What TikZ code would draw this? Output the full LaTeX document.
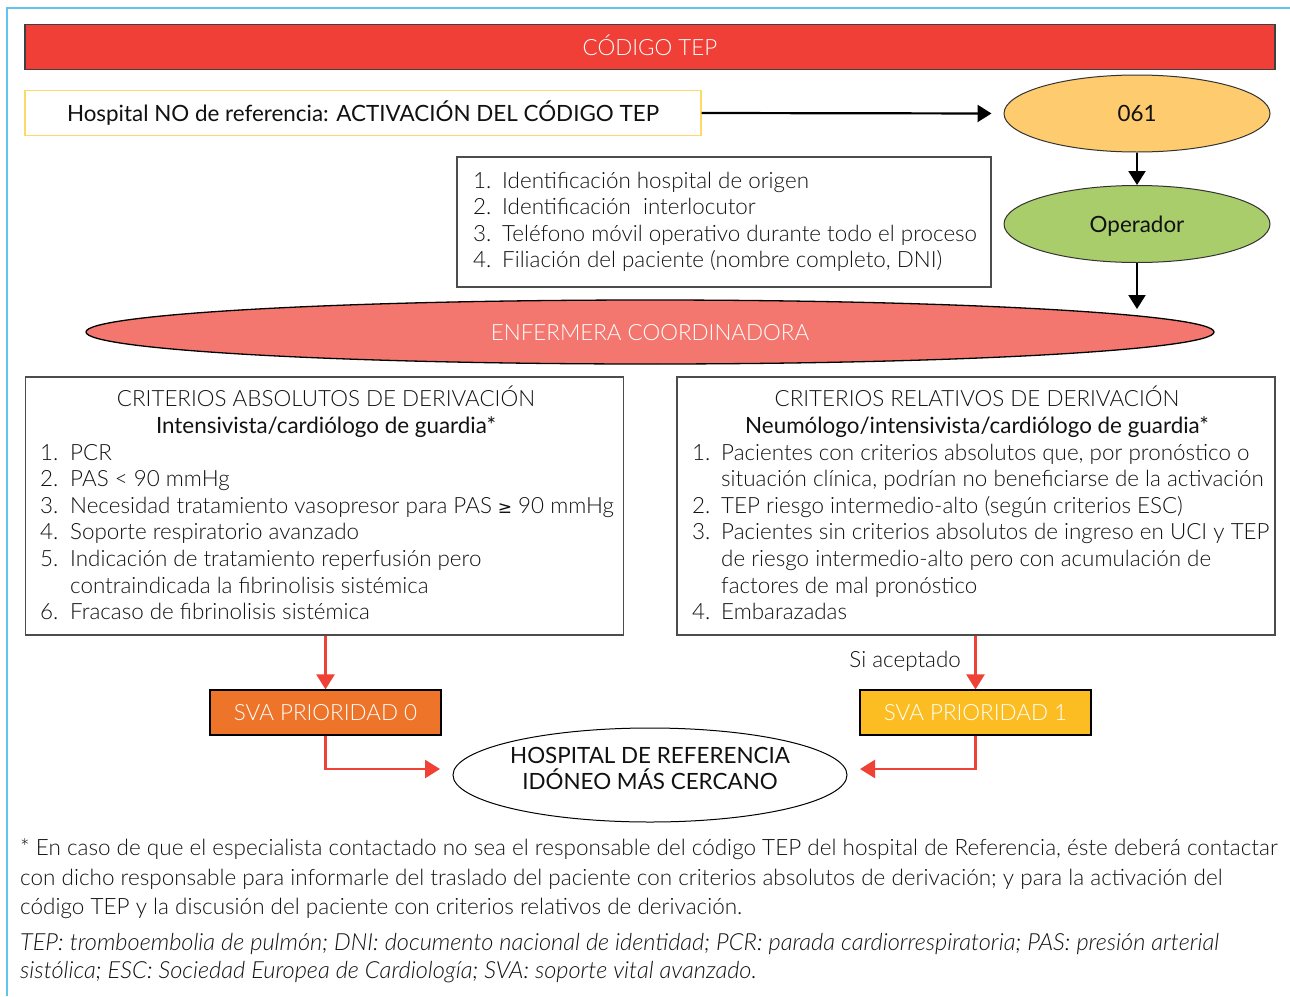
\documentclass[tikz,border=0pt]{standalone}
\usepackage{fontspec}
\setmainfont{Lato Light}[ItalicFont={Lato Light Italic}, BoldFont={Lato}]
\newfontfamily\regfont{Lato}
\newfontfamily\symfont{DejaVu Sans}
\usetikzlibrary{shapes.geometric,arrows.meta}

\definecolor{frameblue}{HTML}{62C3EC}
\definecolor{tepred}{HTML}{EF3F36}
\definecolor{hospyellow}{HTML}{FFD966}
\definecolor{callorange}{HTML}{FECC6E}
\definecolor{opgreen}{HTML}{A9CD6B}
\definecolor{nursesalmon}{HTML}{F4776F}
\definecolor{svaorange}{HTML}{EE742A}
\definecolor{svayellow}{HTML}{FBBD22}
\definecolor{arrowred}{HTML}{EF4136}
\definecolor{ink}{HTML}{111111}

\begin{document}
\begin{tikzpicture}[x=1pt,y=-1pt,
  fs/.style={font=\fontsize{22.4}{26.6}\selectfont},
  oneline/.style={fs, inner sep=0pt, text height=16pt, text depth=0pt},
  titlebar/.style={oneline, rectangle, draw=black!75, line width=1.2pt,
    fill=tepred, text=white, minimum width=1250pt, minimum height=45pt},
  hospbox/.style={oneline, rectangle, draw=hospyellow, line width=1.2pt,
    fill=white, text=ink, minimum width=676pt, minimum height=45pt},
  callnode/.style={oneline, ellipse, draw=black!80, line width=1pt,
    text=ink, minimum width=266pt, minimum height=77pt},
  listbox/.style={rectangle, draw=black!70, line width=1.1pt,
    inner sep=0pt},
  critbox/.style={rectangle, draw=black!70, line width=1.1pt,
    inner sep=0pt, minimum width=598pt, minimum height=258pt},
  svabox/.style={oneline, rectangle, draw=black, line width=1.2pt,
    text=white, minimum width=231pt, minimum height=45pt},
  txt/.style={fs, inner sep=0pt, text=ink},
  blackarrow/.style={draw=black, line width=2.2pt,
    -{Triangle[width=17pt,length=14pt]}},
  redarrow/.style={draw=arrowred, line width=2.5pt,
    -{Triangle[width=18pt,length=15pt]}},
  note/.style={font=\fontsize{22.5}{29}\selectfont, inner sep=0pt, text=ink,
    anchor=base west},
  inote/.style={note, font=\fontsize{23.6}{29}\selectfont\itshape}
]
\useasboundingbox (0,0) rectangle (1290,996);

% outer frame (left and top rules)
\draw[frameblue, line width=1.5pt] (7,996) -- (7,8) -- (1290,8);

% header bar
\node[titlebar] (title) at (650,47) {CÓDIGO TEP};

% activation box and call centre
\node[hospbox] (hosp) at (363,113) {{\regfont Hospital NO de referencia: ACTIVACIÓN DEL CÓDIGO TEP}};
\node[callnode, fill=callorange] (call) at (1137,113.5) {{\regfont 061}};
\node[callnode, fill=opgreen] (oper) at (1137,224) {{\regfont Operador}};

% data requested by the operator
\node[listbox, minimum width=534pt, minimum height=130pt] (data) at (724,222) {};
\node[txt, anchor=base west] (datalist) at (473,188) {%
  \begin{tabular}[t]{@{}p{29pt}@{}l@{}}
  1. & Identificación hospital de origen\\
  2. & Identificación\ \ interlocutor\\
  3. & Teléfono móvil operativo durante todo el proceso\\
  4. & Filiación del paciente (nombre completo, DNI)
  \end{tabular}};

% coordinating nurse
\node[fs, ellipse, draw=black, line width=1.3pt, fill=nursesalmon, text=white,
  inner sep=0pt, minimum width=1128pt, minimum height=64pt,
  text height=16pt, text depth=0pt] (nurse) at (650,332) {ENFERMERA COORDINADORA};
\coordinate (nurseIn) at (1137,309);

% criteria boxes
\node[critbox] (abs) at (324.5,506) {};
\node[txt, anchor=base] (absT) at (326,406) {CRITERIOS ABSOLUTOS DE DERIVACIÓN};
\node[txt, anchor=base] (absS) at (326,433) {{\regfont Intensivista/cardiólogo de guardia*}};
\node[txt, anchor=base west] (absL) at (40,460) {%
  \begin{tabular}[t]{@{}p{30pt}@{}l@{}}
  1. & PCR\\
  2. & PAS < 90 mmHg\\
  3. & Necesidad tratamiento vasopresor para PAS {\symfont\fontsize{17}{20}\selectfont ≥} 90 mmHg\\
  4. & Soporte respiratorio avanzado\\
  5. & Indicación de tratamiento reperfusión pero\\
     & contraindicada la fibrinolisis sistémica\\
  6. & Fracaso de fibrinolisis sistémica
  \end{tabular}};

\node[critbox] (rel) at (976,506) {};
\node[txt, anchor=base] (relT) at (977,406) {CRITERIOS RELATIVOS DE DERIVACIÓN};
\node[txt, anchor=base] (relS) at (977,433) {{\regfont Neumólogo/intensivista/cardiólogo de guardia*}};
\node[txt, anchor=base west] (relL) at (692,460) {%
  \begin{tabular}[t]{@{}p{29pt}@{}l@{}}
  1. & Pacientes con criterios absolutos que, por pronóstico o\\
     & situación clínica, podrían no beneficiarse de la activación\\
  2. & TEP riesgo intermedio-alto (según criterios ESC)\\
  3. & Pacientes sin criterios absolutos de ingreso en UCI y TEP\\
     & de riesgo intermedio-alto pero con acumulación de\\
     & factores de mal pronóstico\\
  4. & Embarazadas
  \end{tabular}};

% transport priority
\node[svabox, fill=svaorange] (sva0) at (325.5,712.5) {SVA PRIORIDAD 0};
\node[svabox, fill=svayellow] (sva1) at (975.5,712.5) {SVA PRIORIDAD 1};
\node[txt, anchor=base east] (accepted) at (961,667) {Si aceptado};

% destination hospital
\node[ellipse, draw=black, line width=1pt, fill=white, inner sep=0pt,
  minimum width=394pt, minimum height=94pt] (dest) at (650,775) {};
\node[txt, align=center, anchor=base] (destT) at (650,789)
  {{\regfont HOSPITAL DE REFERENCIA}\\[-0.6pt]{\regfont IDÓNEO MÁS CERCANO}};
\coordinate (destL) at (440,769);
\coordinate (destR) at (860,769);

% connectors
\draw[blackarrow, shorten >=12pt] (hosp.east) -- (call.west);
\draw[blackarrow] (call.south) -- (oper.north);
\draw[blackarrow] (oper.south) -- (nurseIn);
\draw[redarrow] (sva0.north |- abs.south) -- (sva0.north);
\draw[redarrow] (sva1.north |- rel.south) -- (sva1.north);
\draw[redarrow] (sva0.south) |- (destL);
\draw[redarrow] (sva1.south) |- (destR);

% notes
\node[note] (n1) at (20,855) {* En caso de que el especialista contactado no sea el responsable del código TEP del hospital de Referencia, éste deberá contactar};
\node[note] (n2) at (20,885) {con dicho responsable para informarle del traslado del paciente con criterios absolutos de derivación; y para la activación del};
\node[note] (n3) at (20,914) {código TEP y la discusión del paciente con criterios relativos de derivación.};
\node[inote] (n4) at (20,950) {TEP: tromboembolia de pulmón; DNI: documento nacional de identidad; PCR: parada cardiorrespiratoria; PAS: presión arterial};
\node[inote] (n5) at (20,978) {sistólica; ESC: Sociedad Europea de Cardiología; SVA: soporte vital avanzado.};
\end{tikzpicture}
\end{document}
